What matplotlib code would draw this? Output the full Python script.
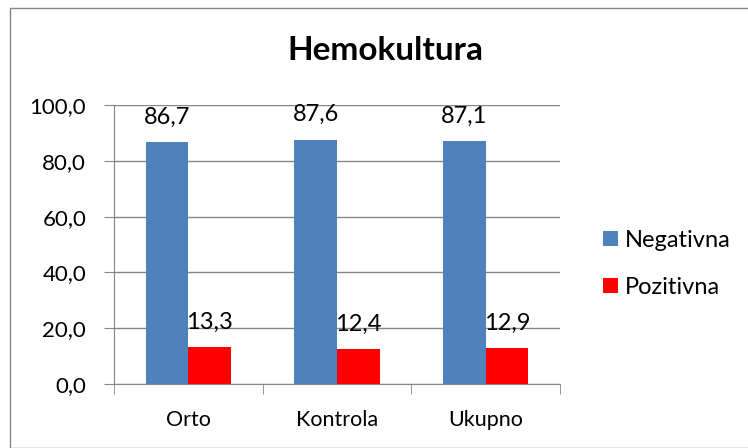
import matplotlib.pyplot as plt
import numpy as np
from matplotlib.patches import Rectangle

plt.rcParams['font.family'] = ['Lato', 'DejaVu Sans']

categories = ['Orto', 'Kontrola', 'Ukupno']
negativna = [86.7, 87.6, 87.1]
pozitivna = [13.3, 12.4, 12.9]

fig = plt.figure(figsize=(7.48, 4.48), dpi=100)
ax = fig.add_axes([114/748, 1 - 384/448, (560-114)/748, (384-105)/448])

# outer chart border
fig.patches.append(Rectangle((10/748, 0), 740/748, 1 - 8/448, transform=fig.transFigure,
                             fill=False, edgecolor='#868686', linewidth=1))

x = np.arange(len(categories))
w = 0.286
b1 = ax.bar(x - w/2, negativna, w, color='#4F81BD', label='Negativna', zorder=3)
b2 = ax.bar(x + w/2, pozitivna, w, color='#FF0000', label='Pozitivna', zorder=3)

for bars in (b1, b2):
    for r in bars:
        h = r.get_height()
        ax.annotate(('%.1f' % h).replace('.', ','), (r.get_x() + r.get_width()/2, h),
                    xytext=(0, 18), textcoords='offset points', ha='center', va='center',
                    fontsize=17)

ax.set_xlim(-0.5, 2.5)
ax.set_ylim(0, 100)
ax.set_yticks(np.arange(0, 101, 20))
ax.set_yticklabels([('%.1f' % v).replace('.', ',') for v in np.arange(0, 101, 20)], fontsize=16)
ax.set_xticks(x)
ax.set_xticklabels(categories, fontsize=15.5)
ax.set_xticks([-0.5, 0.5, 1.5, 2.5], minor=True)
ax.tick_params(axis='x', which='major', length=0, pad=19)
ax.tick_params(axis='x', which='minor', length=7, color='#868686', direction='out')
ax.tick_params(axis='y', length=7, color='#868686', direction='out', pad=13)
ax.grid(axis='y', color='#868686', linewidth=1, zorder=0)
for s in ['top', 'right']:
    ax.spines[s].set_visible(False)
for s in ['left', 'bottom']:
    ax.spines[s].set_color('#868686')

fig.text(385/748, 1 - 51/448, 'Hemokultura', ha='center', va='center', fontsize=24, fontweight='bold')

fig.legend(handles=[b1, b2], loc='center left', bbox_to_anchor=(603/748, 1 - 264/448),
           frameon=False, fontsize=17, handlelength=0.62, handleheight=0.62,
           handletextpad=0.3, labelspacing=1.1, borderpad=0, borderaxespad=0)

fig.savefig('out.png', dpi=100)
